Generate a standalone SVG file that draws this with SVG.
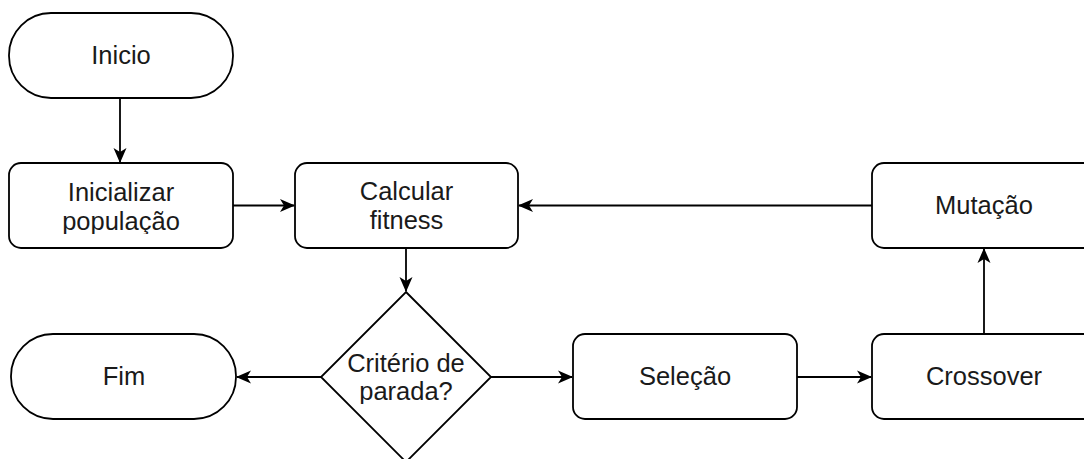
<svg xmlns="http://www.w3.org/2000/svg" width="1084" height="459" viewBox="0 0 1084 459">
<style>
.shape{fill:#ffffff;stroke:#000000;stroke-width:1.8}
.lbl{font-family:"Liberation Sans",Arial,sans-serif;font-size:25.5px;fill:#1a1a1a;text-anchor:middle}
.edge{fill:none;stroke:#000000;stroke-width:1.8}
</style>
<defs>
<marker id="arr" markerWidth="16" markerHeight="14" refX="14" refY="7" orient="auto" markerUnits="userSpaceOnUse">
<path d="M0,0.5 L15,7 L0,13.5 L4,7 z" fill="#000000"/>
</marker>
<clipPath id="clipIni"><rect x="0" y="150" width="250" height="84"/></clipPath>
<clipPath id="clipCrit"><rect x="300" y="330" width="220" height="74"/></clipPath>
</defs>
<rect width="1084" height="459" fill="#ffffff"/>
<g id="connectors">
<line class="edge" x1="120" y1="98" x2="120" y2="162" marker-end="url(#arr)"/>
<line class="edge" x1="233" y1="205.5" x2="294" y2="205.5" marker-end="url(#arr)"/>
<line class="edge" x1="872" y1="205.5" x2="519" y2="205.5" marker-end="url(#arr)"/>
<line class="edge" x1="406" y1="248" x2="406" y2="291" marker-end="url(#arr)"/>
<line class="edge" x1="321" y1="377" x2="237" y2="377" marker-end="url(#arr)"/>
<line class="edge" x1="491" y1="377" x2="572" y2="377" marker-end="url(#arr)"/>
<line class="edge" x1="797" y1="377" x2="871" y2="377" marker-end="url(#arr)"/>
<line class="edge" x1="984" y1="334" x2="984" y2="249" marker-end="url(#arr)"/>
</g>
<g id="inicio">
<rect class="shape" x="9" y="13" width="224" height="85" rx="42" ry="42"/>
<text class="lbl" x="121" y="64">Inicio</text>
</g>
<g id="inicializar">
<rect class="shape" x="9" y="163" width="224" height="85" rx="12" ry="12"/>
<g clip-path="url(#clipIni)">
<text class="lbl" x="121" y="201">Inicializar</text>
<text class="lbl" x="121" y="230">população</text>
</g>
</g>
<g id="calcular">
<rect class="shape" x="295" y="163" width="223" height="85" rx="12" ry="12"/>
<text class="lbl" x="406.5" y="200">Calcular</text>
<text class="lbl" x="406.5" y="229">fitness</text>
</g>
<g id="mutacao">
<rect class="shape" x="872" y="163" width="224" height="85" rx="12" ry="12"/>
<text class="lbl" x="984" y="214">Mutação</text>
</g>
<g id="criterio">
<polygon class="shape" points="406,292 491,377 406,462 321,377"/>
<g clip-path="url(#clipCrit)">
<text class="lbl" x="406" y="372">Critério de</text>
<text class="lbl" x="406" y="400">parada?</text>
</g>
</g>
<g id="fim">
<rect class="shape" x="11" y="334" width="225" height="85" rx="42" ry="42"/>
<text class="lbl" x="124" y="385">Fim</text>
</g>
<g id="selecao">
<rect class="shape" x="573" y="334" width="224" height="85" rx="12" ry="12"/>
<text class="lbl" x="685" y="385">Seleção</text>
</g>
<g id="crossover">
<rect class="shape" x="872" y="334" width="224" height="85" rx="12" ry="12"/>
<text class="lbl" x="984" y="385">Crossover</text>
</g>
</svg>
